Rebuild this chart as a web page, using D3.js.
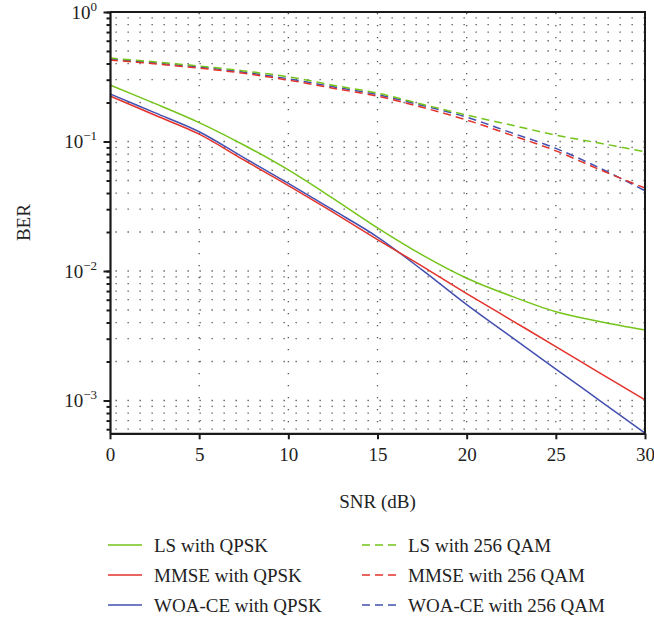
<!DOCTYPE html>
<html>
<head>
<meta charset="utf-8">
<script src="https://cdn.jsdelivr.net/npm/d3@7/dist/d3.min.js"></script>
<style>
  html, body { margin: 0; padding: 0; background: #fff; }
  svg { display: block; font-family: "Liberation Serif", "Times New Roman", serif; }
</style>
</head>
<body>
<div id="chart"></div>
<script>
// SNR sweep (dB)
const snr = [0, 2.5, 5, 7.5, 10, 12.5, 15, 17.5, 20, 22.5, 25, 27.5, 30];

// Bit error rates, QPSK
const lsQpsk   = [0.273, 0.197, 0.140, 0.094, 0.0603, 0.0364, 0.0215, 0.0133, 0.00879, 0.0064, 0.00485, 0.00406, 0.0035];
const mmseQpsk = [0.2245, 0.160, 0.114, 0.072, 0.0457, 0.0285, 0.0175, 0.0109, 0.0067, 0.00418, 0.00261, 0.00162, 0.00101];
const woaQpsk  = [0.233, 0.167, 0.119, 0.075, 0.0475, 0.0296, 0.0183, 0.0102, 0.0055, 0.0031, 0.00175, 0.00099, 0.00056];

// Bit error rates, 256 QAM
const ls256   = [0.441, 0.412, 0.383, 0.351, 0.316, 0.272, 0.236, 0.194, 0.160, 0.134, 0.112, 0.0968, 0.0834];
const mmse256 = [0.426, 0.398, 0.369, 0.336, 0.298, 0.258, 0.224, 0.1836, 0.1466, 0.112, 0.0847, 0.0603, 0.0437];
const woa256  = [0.434, 0.405, 0.376, 0.343, 0.305, 0.265, 0.230, 0.190, 0.154, 0.117, 0.0885, 0.062, 0.0417];

const seriesNames = [
  "LS with QPSK", "MMSE with QPSK", "WOA-CE with QPSK",
  "LS with 256 QAM", "MMSE with 256 QAM", "WOA-CE with 256 QAM"
];

const xTicks = [0, 5, 10, 15, 20, 25, 30];
const yMajorExps = [0, -1, -2, -3];

const green = "#74c41a", red = "#e3322a", blue = "#4350b0";

const series = [
  { name: seriesNames[0], values: lsQpsk,   color: green, dashed: false },
  { name: seriesNames[1], values: mmseQpsk, color: red,   dashed: false },
  { name: seriesNames[2], values: woaQpsk,  color: blue,  dashed: false },
  { name: seriesNames[3], values: ls256,    color: green, dashed: true },
  { name: seriesNames[4], values: mmse256,  color: red,   dashed: true },
  { name: seriesNames[5], values: woa256,   color: blue,  dashed: true }
];

const W = 654, H = 620;
const plot = { left: 110, right: 645, top: 12, bottom: 433.3 };

const svg = d3.select("#chart").append("svg")
  .attr("width", W).attr("height", H);

const x = d3.scaleLinear().domain([0, 30]).range([plot.left, plot.right]);
const y = d3.scaleLog().domain([5.58e-4, 1]).range([plot.bottom, plot.top]);

// minor log positions inside the domain
const [yLo, yHi] = y.domain();
const minorVals = [];
for (let e = -4; e <= 0; e++) {
  for (let k = 1; k <= 9; k++) {
    const v = k * Math.pow(10, e);
    if (v >= yLo && v <= yHi) minorVals.push(v);
  }
}
const majorVals = yMajorExps.map(e => Math.pow(10, e));

// dotted grid
const grid = svg.append("g").attr("stroke", "#555").attr("stroke-width", 1.3)
  .attr("stroke-dasharray", "1.3 10.7").attr("fill", "none");
grid.selectAll("line.h").data(minorVals).join("line")
  .attr("class", "h")
  .attr("x1", plot.left + 5.5).attr("x2", plot.right)
  .attr("y1", d => y(d)).attr("y2", d => y(d));
grid.selectAll("line.v").data(xTicks.slice(1, -1)).join("line")
  .attr("class", "v")
  .attr("x1", d => x(d)).attr("x2", d => x(d))
  .attr("y1", plot.top + 1).attr("y2", plot.bottom);

// curves
const line = d3.line()
  .x((d, i) => x(snr[i]))
  .y(d => y(d))
  .curve(d3.curveCatmullRom.alpha(0.5));

const curves = svg.append("g").attr("fill", "none");
curves.selectAll("path").data(series.slice().reverse()).join("path")
  .attr("d", d => line(d.values))
  .attr("stroke", d => d.color)
  .attr("stroke-width", 1.5)
  .attr("stroke-dasharray", d => d.dashed ? "8 5" : null);

// frame
const frame = svg.append("g").attr("stroke", "#1a1a1a").attr("stroke-width", 2).attr("fill", "none");
frame.append("path")
  .attr("d", `M${plot.left},${plot.top}H${plot.right}V${plot.bottom}`);

// x axis
const xAxis = svg.append("g")
  .attr("transform", `translate(0,${plot.bottom})`)
  .call(d3.axisBottom(x).tickValues(xTicks).tickSize(6).tickSizeOuter(0).tickPadding(8).tickFormat(d3.format("d")));
xAxis.select(".domain").attr("stroke", "#1a1a1a").attr("stroke-width", 2.2);
xAxis.selectAll(".tick line").attr("stroke", "#1a1a1a").attr("stroke-width", 2);
xAxis.selectAll(".tick text")
  .attr("font-family", "Liberation Serif, serif").attr("font-size", 19).attr("fill", "#222");

// y axis: minor and major ticks
const yMinor = svg.append("g")
  .attr("transform", `translate(${plot.left},0)`)
  .call(d3.axisLeft(y).tickValues(minorVals).tickSize(3.5).tickSizeOuter(0).tickFormat(""));
yMinor.select(".domain").remove();
yMinor.selectAll(".tick line").attr("stroke", "#1a1a1a").attr("stroke-width", 2);

const yMajor = svg.append("g")
  .attr("transform", `translate(${plot.left},0)`)
  .call(d3.axisLeft(y).tickValues(majorVals).tickSize(6.5).tickSizeOuter(0).tickFormat(""));
yMajor.select(".domain").attr("stroke", "#1a1a1a").attr("stroke-width", 2.2);
yMajor.selectAll(".tick line").attr("stroke", "#1a1a1a").attr("stroke-width", 2);

// power-of-ten labels
const yLabels = svg.append("g").attr("font-size", 19).attr("fill", "#222");
yMajorExps.forEach(e => {
  const t = yLabels.append("text")
    .attr("x", 97).attr("y", y(Math.pow(10, e)) + 7)
    .attr("text-anchor", "end");
  t.append("tspan").text("10");
  t.append("tspan").attr("font-size", 13).attr("dy", -8)
    .text(e === 0 ? "0" : "\u2212" + (-e));
});

// axis titles
svg.append("text")
  .attr("x", (plot.left + plot.right) / 2).attr("y", 508)
  .attr("text-anchor", "middle").attr("font-size", 19).attr("fill", "#222")
  .text("SNR (dB)");
svg.append("text")
  .attr("transform", `translate(30,${(plot.top + plot.bottom) / 2}) rotate(-90)`)
  .attr("text-anchor", "middle").attr("font-size", 19).attr("fill", "#222")
  .text("BER");

// legend
const legend = svg.append("g");
series.forEach((s, i) => {
  const col = s.dashed ? 1 : 0;
  const row = i % 3;
  const lx = col ? 362 : 108;
  const ly = 545 + row * 30;
  legend.append("line")
    .attr("x1", lx).attr("x2", lx + 34).attr("y1", ly).attr("y2", ly)
    .attr("stroke", s.color).attr("stroke-width", 1.6)
    .attr("stroke-dasharray", s.dashed ? "8 5" : null);
  legend.append("text")
    .attr("x", lx + 46).attr("y", ly + 6.5)
    .attr("font-size", 19).attr("fill", "#222")
    .text(s.name);
});
</script>
</body>
</html>
